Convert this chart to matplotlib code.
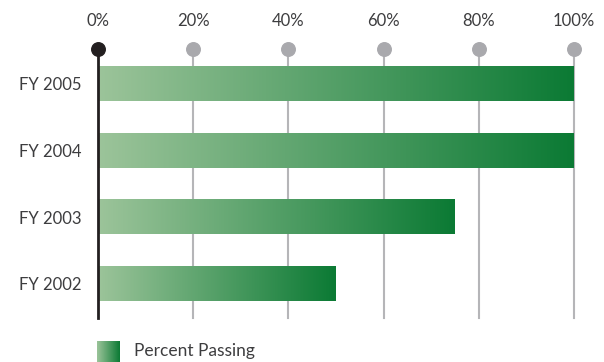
import matplotlib
matplotlib.use("Agg")
import matplotlib.pyplot as plt
import numpy as np
from matplotlib.colors import LinearSegmentedColormap

plt.rcParams['font.family'] = ['Lato', 'DejaVu Sans']

# data
years = ["FY 2002", "FY 2003", "FY 2004", "FY 2005"]
passing = [50, 75, 100, 100]
ticks = [0, 20, 40, 60, 80, 100]
tick_labels = ["0%", "20%", "40%", "60%", "80%", "100%"]
legend_label = "Percent Passing"

text_color = "#3d3d3f"
grid_color = "#b5b5b8"
dot_color = "#a9a9ad"
axis_color = "#231f20"
cmap = LinearSegmentedColormap.from_list("grn", ["#9cc49a", "#0b7a34"])

fig = plt.figure(figsize=(6.04, 3.62), dpi=100)
ax = fig.add_axes([98 / 604, 1 - 318 / 362, 476 / 604, 280.7 / 362])

bar_h = 0.51
y_top = 3.525
y_bot = -0.51

# gridlines and dots
for t in ticks[1:]:
    ax.plot([t, t], [y_bot, y_top], color=grid_color, lw=1.5, zorder=1, clip_on=False)
ax.plot([0, 0], [y_bot, y_top], color=axis_color, lw=2, zorder=4, clip_on=False)
ax.scatter(ticks[1:], [y_top] * (len(ticks) - 1), s=95, color=dot_color, zorder=5, clip_on=False)
ax.scatter([0], [y_top], s=95, color=axis_color, zorder=5, clip_on=False)

# gradient bars
grad = np.linspace(0, 1, 256).reshape(1, -1)
for i, v in enumerate(passing):
    ax.imshow(grad, cmap=cmap, aspect="auto", extent=[0, v, i - bar_h / 2, i + bar_h / 2],
              zorder=2, interpolation="bilinear")
ax.set_xlim(0, 100)
ax.set_ylim(y_bot, 3.7)

ax.set_yticks(range(len(years)))
ax.set_yticklabels(years, fontsize=12, color=text_color)
ax.xaxis.tick_top()
ax.set_xticks(ticks)
ax.set_xticklabels(tick_labels, fontsize=12, color=text_color)
ax.tick_params(axis="x", length=0, pad=6)
ax.tick_params(axis="y", length=0, pad=12)
for s in ax.spines.values():
    s.set_visible(False)

# legend
lax = fig.add_axes([97 / 604, 0, 23 / 604, 21 / 362])
lax.imshow(grad, cmap=cmap, aspect="auto", interpolation="bilinear")
lax.axis("off")
fig.text(134 / 604, 1 - 351 / 362, legend_label, fontsize=12.5, color=text_color, va="center")

fig.savefig("out.png", dpi=100)
